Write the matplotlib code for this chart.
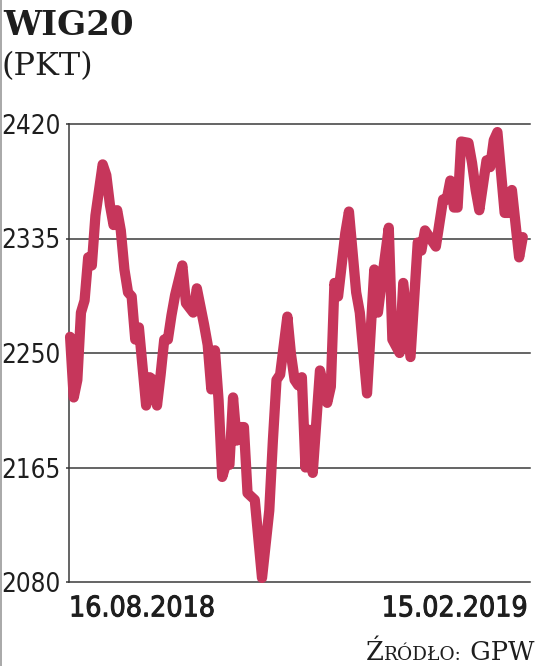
import matplotlib
matplotlib.use("Agg")
import matplotlib.pyplot as plt
from matplotlib import font_manager as fm
from matplotlib import patheffects
from matplotlib.lines import Line2D

# WIG20 closing values, sessions counted from 16.08.2018
sessions = [0, 1, 2, 3, 4, 5, 6, 7, 8, 9, 10, 11, 12, 13, 14, 15, 16, 17, 18, 19,
            20, 21, 22, 23, 24, 25, 26, 27, 28, 29, 30, 31, 32, 34, 35, 37, 38, 39, 40, 41,
            42, 43, 44, 45, 46, 47, 48, 49, 51, 53, 55, 56, 57, 58, 60, 61, 62, 63, 64, 65,
            66, 67, 69, 70, 71, 72, 73, 74, 76, 77, 79, 80, 82, 84, 85, 86, 88, 89, 91, 92,
            94, 96, 97, 98, 101, 103, 104, 105, 106, 107, 108, 110, 111, 112, 113, 115, 116, 117, 118, 120,
            121, 122, 124, 125]
wig20 = [2262, 2217, 2230, 2280, 2289, 2321, 2315, 2352, 2371, 2390, 2382, 2360, 2345, 2356, 2341, 2312, 2295, 2292, 2260, 2269,
         2240, 2211, 2232, 2230, 2211, 2234, 2260, 2260, 2278, 2293, 2304, 2315, 2287, 2280, 2298, 2271, 2256, 2223, 2252, 2215,
         2158, 2167, 2167, 2217, 2185, 2195, 2195, 2146, 2141, 2083, 2133, 2185, 2230, 2234, 2277, 2249, 2230, 2226, 2232, 2165,
         2193, 2161, 2237, 2226, 2213, 2225, 2302, 2292, 2339, 2355, 2295, 2280, 2220, 2312, 2280, 2302, 2343, 2260, 2250, 2302,
         2247, 2332, 2326, 2341, 2329, 2364, 2364, 2378, 2358, 2358, 2407, 2406, 2391, 2371, 2356, 2393, 2388, 2408, 2414, 2354,
         2354, 2371, 2321, 2336]

yticks = [2080, 2165, 2250, 2335, 2420]
date_labels = ["16.08.2018", "15.02.2019"]
title = "WIG20"
unit = "(PKT)"
source_parts = [("Ź", 18.5), ("RÓDŁO:", 13.3), (" GPW", 18.5)]

line_color = "#c6365b"
grid_color = "#3a3a3a"
text_color = "#1e1e1e"
serif = ["DejaVu Serif"]


def narrow_font(bold=False):
    # prefer a condensed sans if one is installed, else Liberation Sans
    wanted = ["liberationsansnarrow", "dejavusanscondensed", "robotocondensed",
              "opensans_condensed", "opensanscondensed"]
    for w in wanted:
        for f in fm.fontManager.ttflist:
            fn = f.fname.lower().replace("-", "").split("/")[-1]
            if fn.startswith(w) and (("bold" in fn) == bold) and "oblique" not in fn \
                    and "italic" not in fn:
                return fm.FontProperties(fname=f.fname)
    return fm.FontProperties(family="Liberation Sans",
                             weight="bold" if bold else "normal")


fig = plt.figure(figsize=(5.36, 6.66), dpi=100)
renderer = fig.canvas.get_renderer()


def fit_size(text, props, width_px):
    t = fig.text(0, 0, text, fontproperties=props, fontsize=10)
    w = t.get_window_extent(renderer).width
    t.remove()
    return 10 * width_px / w


tick_font = narrow_font()
tick_font.set_size(fit_size("2420", tick_font, 59))
date_font = narrow_font()
date_font.set_size(fit_size(date_labels[0], date_font, 146))

ax = fig.add_axes([69 / 536, 1 - 582 / 666, 461 / 536, 458 / 666])

for y in yticks:
    ax.axhline(y, color=grid_color, lw=1.1, clip_on=False, zorder=1)

ax.plot(sessions, wig20, color=line_color, lw=7.4, solid_joinstyle="round",
        solid_capstyle="round", clip_on=False, zorder=3)

ax.set_ylim(yticks[0], yticks[-1])
ax.set_xlim(-0.3, 127)
ax.set_yticks(yticks)
ax.set_yticklabels([str(v) for v in yticks], fontproperties=tick_font,
                   color=text_color)
ax.tick_params(axis="y", length=2, width=1.1, color=grid_color, pad=4.3)
ax.set_xticks([])
for side in ["top", "right", "bottom"]:
    ax.spines[side].set_visible(False)
ax.spines["left"].set_color(grid_color)
ax.spines["left"].set_linewidth(1.1)

# slightly heavier strokes for the date labels
thick = [patheffects.withStroke(linewidth=0.7, foreground=text_color)]
ax.text(0, -0.027, date_labels[0], transform=ax.transAxes, ha="left", va="top",
        fontproperties=date_font, color=text_color, path_effects=thick)
ax.text(0.996, -0.027, date_labels[1], transform=ax.transAxes, ha="right", va="top",
        fontproperties=date_font, color=text_color, path_effects=thick)

fig.text(3 / 536, 1 - 9 / 666, title, ha="left", va="top", family=serif,
         fontsize=24.5, fontweight="bold", color=text_color)
fig.text(2 / 536, 1 - 51 / 666, unit, ha="left", va="top", family=serif,
         fontsize=23, color=text_color)

# source line in small caps, built piece by piece
x = 366
for txt, size in source_parts:
    t = fig.text(x / 536, 1 - 660 / 666, txt, ha="left", va="baseline",
                 family=serif, fontsize=size, color=text_color)
    x += t.get_window_extent(renderer).width

fig.add_artist(Line2D([0.002, 0.002], [0, 1], transform=fig.transFigure,
                      color="#9a9a9a", lw=1.2))

fig.savefig("out.png", dpi=100)
